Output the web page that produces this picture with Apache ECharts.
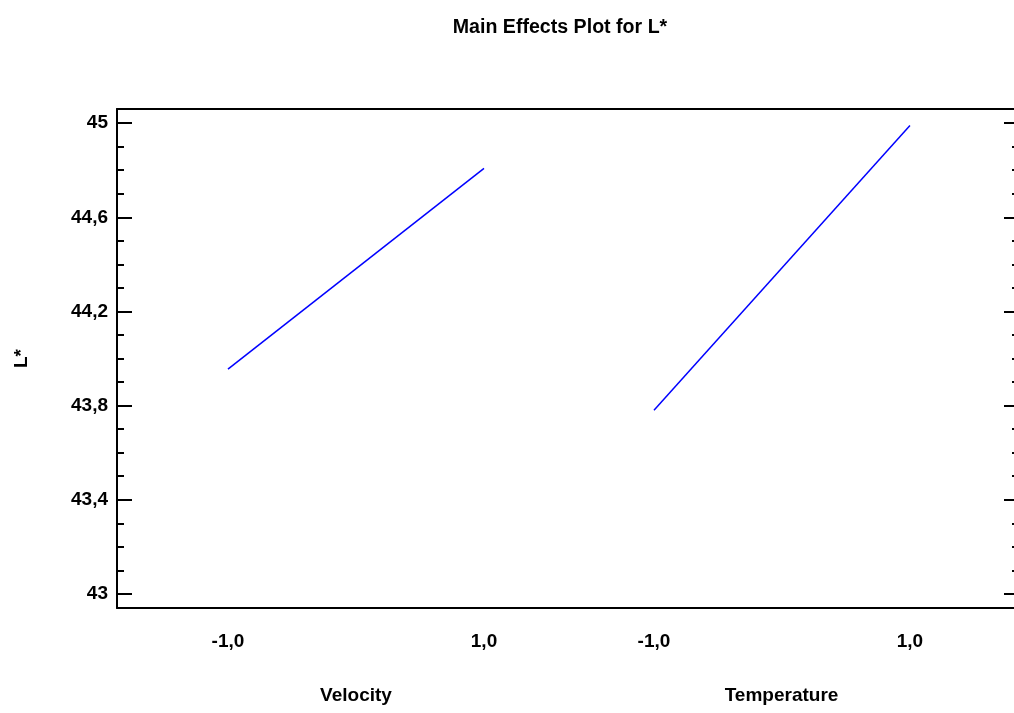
<!DOCTYPE html>
<html>
<head>
<meta charset="utf-8">
<script src="https://cdn.jsdelivr.net/npm/echarts@6/dist/echarts.min.js"></script>
<style>
  html, body { margin: 0; padding: 0; background: #fff; }
  #chart { width: 1014px; height: 713px; }
</style>
</head>
<body>
<div id="chart"></div>
<script>
// factor levels and the mean of L* at each level
const velocityLevels = [-1, 1];
const velocityMeans = [43.955, 44.808];
const temperatureLevels = [-1, 1];
const temperatureMeans = [43.78, 44.99];

// tick labels
const yTicks = [43, 43.4, 43.8, 44.2, 44.6, 45];
const yMinorTicks = [43.1, 43.2, 43.3, 43.5, 43.6, 43.7, 43.9, 44.0, 44.1, 44.3, 44.4, 44.5, 44.7, 44.8, 44.9];
const xTicks = [-1, 1];

const FONT = "'Liberation Sans Narrow', 'Arial Narrow', 'Liberation Sans', sans-serif";
const YMIN = 42.94, YMAX = 45.06;

const comma = (v) => String(v).replace('.', ',');
const commaFixed = (v) => Number(v).toFixed(1).replace('.', ',');

const chart = echarts.init(document.getElementById('chart'));

const blackLine = { color: '#000', width: 2 };

function bottomAxis(gridIndex, min, max, name, padding) {
  return {
    type: 'value', gridIndex, position: 'bottom', min, max,
    axisLine: { show: true, onZero: false, lineStyle: blackLine },
    axisTick: { show: false },
    splitLine: { show: false },
    axisLabel: {
      customValues: xTicks, formatter: commaFixed, margin: 24,
      color: '#000', fontFamily: FONT, fontWeight: 'bold', fontSize: 19
    },
    name, nameLocation: 'middle', nameGap: 78,
    nameTextStyle: { color: '#000', fontFamily: FONT, fontWeight: 'bold', fontSize: 19, padding }
  };
}

function topAxis(gridIndex, min, max) {
  return {
    type: 'value', gridIndex, position: 'top', min, max,
    axisLine: { show: true, onZero: false, lineStyle: blackLine },
    axisTick: { show: false }, axisLabel: { show: false }, splitLine: { show: false }
  };
}

function yAxisDef(gridIndex, position, values, len, labels) {
  return {
    type: 'value', gridIndex, position, min: YMIN, max: YMAX,
    axisLine: { show: labels !== null, onZero: false, lineStyle: blackLine },
    axisTick: { show: true, inside: true, length: len, customValues: values, lineStyle: blackLine },
    splitLine: { show: false },
    axisLabel: labels ? {
      customValues: values, formatter: comma, margin: 9,
      color: '#000', fontFamily: FONT, fontWeight: 'bold', fontSize: 19
    } : { show: false }
  };
}

const leftMain = yAxisDef(0, 'left', yTicks, 15, true);
leftMain.name = 'L*';
leftMain.nameLocation = 'middle';
leftMain.nameRotate = 90;
leftMain.nameGap = 86;
leftMain.nameTextStyle = { color: '#000', fontFamily: FONT, fontWeight: 'bold', fontSize: 19 };

const option = {
  animation: false,
  backgroundColor: '#fff',
  title: {
    text: 'Main Effects Plot for L*',
    left: 555, top: 13, textAlign: 'center',
    textStyle: { color: '#000', fontFamily: FONT, fontWeight: 'bold', fontSize: 19.6 }
  },
  grid: [
    { left: 117, top: 109, width: 452, height: 499, outerBoundsMode: 'none' },
    { left: 569, top: 109, width: 450, height: 499, outerBoundsMode: 'none' }
  ],
  xAxis: [
    bottomAxis(0, -1.867, 1.664, 'Velocity', [0, 0, 0, 26]),
    topAxis(0, -1.867, 1.664),
    bottomAxis(1, -1.664, 1.852, 'Temperature', [0, 25, 0, 0]),
    topAxis(1, -1.664, 1.852)
  ],
  yAxis: [
    leftMain,
    yAxisDef(0, 'left', yMinorTicks, 7, null),
    yAxisDef(1, 'right', yTicks, 15, false),
    yAxisDef(1, 'right', yMinorTicks, 7, null)
  ],
  series: [
    {
      type: 'line', name: 'Velocity', xAxisIndex: 0, yAxisIndex: 0,
      data: velocityLevels.map((x, i) => [x, velocityMeans[i]]),
      showSymbol: false, lineStyle: { color: '#0000ff', width: 1.5 }
    },
    {
      type: 'line', name: 'Temperature', xAxisIndex: 2, yAxisIndex: 2,
      data: temperatureLevels.map((x, i) => [x, temperatureMeans[i]]),
      showSymbol: false, lineStyle: { color: '#0000ff', width: 1.5 }
    }
  ]
};

chart.setOption(option);
</script>
</body>
</html>
